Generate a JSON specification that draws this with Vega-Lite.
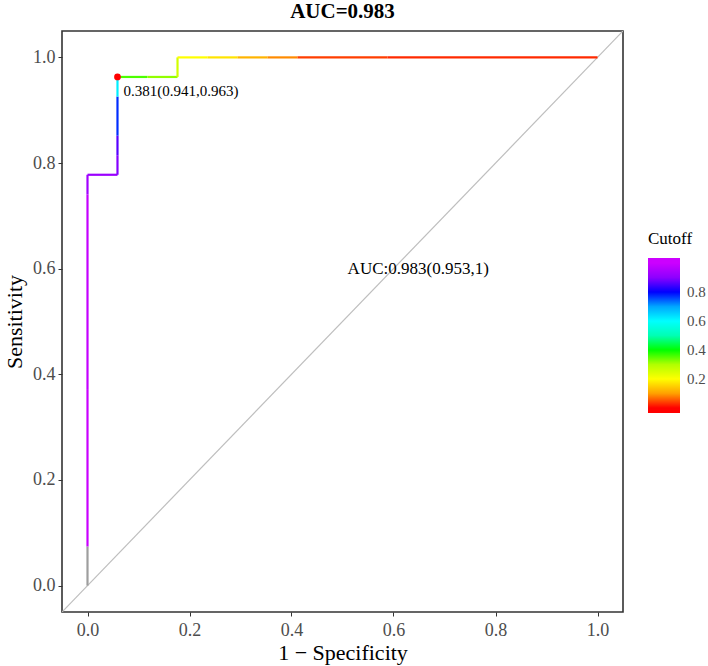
{
  "$schema": "https://vega.github.io/schema/vega-lite/v6.json",
  "width": 561,
  "height": 581,
  "autosize": {"type": "none"},
  "padding": {"left": 62, "top": 31, "right": 85, "bottom": 54},
  "background": "white",
  "title": {"text": "AUC=0.983", "font": "Liberation Serif", "fontSize": 21, "fontWeight": "bold", "color": "black", "anchor": "middle", "offset": 9},
  "config": {
    "font": "Liberation Serif",
    "view": {"stroke": "#333333", "strokeWidth": 1.6},
    "axis": {"domain": false, "grid": false, "tickColor": "#333333", "tickSize": 4, "tickWidth": 1, "labelFont": "Liberation Serif", "labelFontSize": 18, "labelColor": "#4D4D4D", "titleFont": "Liberation Serif", "titleFontSize": 22, "titleFontWeight": "normal", "titleColor": "black", "labelPadding": 3}
  },
  "datasets": {
    "segs": [
      {"fpr": 0, "tpr": 0.0741, "fpr2": 0, "tpr2": 0.3704, "cutoff": 0.995},
      {"fpr": 0, "tpr": 0.3704, "fpr2": 0, "tpr2": 0.7407, "cutoff": 0.985},
      {"fpr": 0, "tpr": 0.7407, "fpr2": 0, "tpr2": 0.7778, "cutoff": 0.93},
      {"fpr": 0, "tpr": 0.7778, "fpr2": 0.0588, "tpr2": 0.7778, "cutoff": 0.92},
      {"fpr": 0.0588, "tpr": 0.7778, "fpr2": 0.0588, "tpr2": 0.8148, "cutoff": 0.89},
      {"fpr": 0.0588, "tpr": 0.8148, "fpr2": 0.0588, "tpr2": 0.8519, "cutoff": 0.84},
      {"fpr": 0.0588, "tpr": 0.8519, "fpr2": 0.0588, "tpr2": 0.9259, "cutoff": 0.79},
      {"fpr": 0.0588, "tpr": 0.9259, "fpr2": 0.0588, "tpr2": 0.963, "cutoff": 0.62},
      {"fpr": 0.0588, "tpr": 0.963, "fpr2": 0.1176, "tpr2": 0.963, "cutoff": 0.381},
      {"fpr": 0.1176, "tpr": 0.963, "fpr2": 0.1765, "tpr2": 0.963, "cutoff": 0.33},
      {"fpr": 0.1765, "tpr": 0.963, "fpr2": 0.1765, "tpr2": 1, "cutoff": 0.26},
      {"fpr": 0.1765, "tpr": 1, "fpr2": 0.2353, "tpr2": 1, "cutoff": 0.2},
      {"fpr": 0.2353, "tpr": 1, "fpr2": 0.2941, "tpr2": 1, "cutoff": 0.17},
      {"fpr": 0.2941, "tpr": 1, "fpr2": 0.3529, "tpr2": 1, "cutoff": 0.12},
      {"fpr": 0.3529, "tpr": 1, "fpr2": 0.4118, "tpr2": 1, "cutoff": 0.08},
      {"fpr": 0.4118, "tpr": 1, "fpr2": 0.5882, "tpr2": 1, "cutoff": 0.02},
      {"fpr": 0.5882, "tpr": 1, "fpr2": 1, "tpr2": 1, "cutoff": 0.01}
    ],
    "nullseg": [
      {"fpr": 0, "tpr": 0, "fpr2": 0, "tpr2": 0.0741}
    ],
    "diag": [
      {"x": -0.05, "y": -0.05, "x2": 1.05, "y2": 1.05}
    ],
    "best": [
      {"fpr": 0.0588, "tpr": 0.963, "label": "0.381(0.941,0.963)"}
    ],
    "auc": [
      {"x": 0.51, "y": 0.6, "label": "AUC:0.983(0.953,1)"}
    ]
  },
  "layer": [
    {
      "data": {"name": "diag"},
      "mark": {"type": "rule", "color": "#BEBEBE", "strokeWidth": 1.2, "clip": true},
      "encoding": {
        "x": {"field": "x", "type": "quantitative", "scale": {"domain": [-0.05, 1.05], "nice": false, "zero": false}, "axis": {"values": [0, 0.2, 0.4, 0.6, 0.8, 1.0], "format": ".1f", "title": "1 − Specificity", "titlePadding": 3, "labelPadding": 5}},
        "y": {"field": "y", "type": "quantitative", "scale": {"domain": [-0.05, 1.05], "nice": false, "zero": false}, "axis": {"values": [0, 0.2, 0.4, 0.6, 0.8, 1.0], "format": ".1f", "title": "Sensitivity", "titlePadding": 6}},
        "x2": {"field": "x2"},
        "y2": {"field": "y2"}
      }
    },
    {
      "data": {"name": "nullseg"},
      "mark": {"type": "rule", "color": "#9E9E9E", "strokeWidth": 2.2, "strokeCap": "butt"},
      "encoding": {
        "x": {"field": "fpr", "type": "quantitative"},
        "y": {"field": "tpr", "type": "quantitative"},
        "x2": {"field": "fpr2"},
        "y2": {"field": "tpr2"}
      }
    },
    {
      "data": {"name": "segs"},
      "mark": {"type": "rule", "strokeWidth": 2.2, "strokeCap": "butt"},
      "encoding": {
        "x": {"field": "fpr", "type": "quantitative"},
        "y": {"field": "tpr", "type": "quantitative"},
        "x2": {"field": "fpr2"},
        "y2": {"field": "tpr2"},
        "color": {
          "field": "cutoff", "type": "quantitative",
          "scale": {"type": "linear", "domain": [-0.035, 0, 0.2, 0.4, 0.6, 0.8, 1.0, 1.035], "range": ["#FF0000", "#FF0000", "#FFFF00", "#00FF00", "#00FFFF", "#0000FF", "#CC00FF", "#CC00FF"]},
          "legend": {
            "title": "Cutoff", "orient": "none", "legendX": 586, "legendY": 200,
            "values": [0.2, 0.4, 0.6, 0.8], "format": ".1f",
            "gradientLength": 155, "gradientThickness": 32, "gradientStrokeWidth": 0,
            "titleFont": "Liberation Serif", "titleFontSize": 17, "titleFontWeight": "normal", "titleColor": "black", "titlePadding": 10,
            "labelFont": "Liberation Serif", "labelFontSize": 15, "labelColor": "#4D4D4D", "labelOffset": 7
          }
        }
      }
    },
    {
      "data": {"name": "best"},
      "mark": {"type": "point", "filled": true, "color": "#FF0000", "size": 45, "opacity": 1},
      "encoding": {
        "x": {"field": "fpr", "type": "quantitative"},
        "y": {"field": "tpr", "type": "quantitative"}
      }
    },
    {
      "data": {"name": "best"},
      "mark": {"type": "text", "align": "left", "baseline": "middle", "dx": 6, "dy": 14, "fontSize": 15, "font": "Liberation Serif", "color": "black"},
      "encoding": {
        "x": {"field": "fpr", "type": "quantitative"},
        "y": {"field": "tpr", "type": "quantitative"},
        "text": {"field": "label"}
      }
    },
    {
      "data": {"name": "auc"},
      "mark": {"type": "text", "align": "left", "baseline": "middle", "fontSize": 17, "font": "Liberation Serif", "color": "black"},
      "encoding": {
        "x": {"field": "x", "type": "quantitative"},
        "y": {"field": "y", "type": "quantitative"},
        "text": {"field": "label"}
      }
    }
  ]
}
